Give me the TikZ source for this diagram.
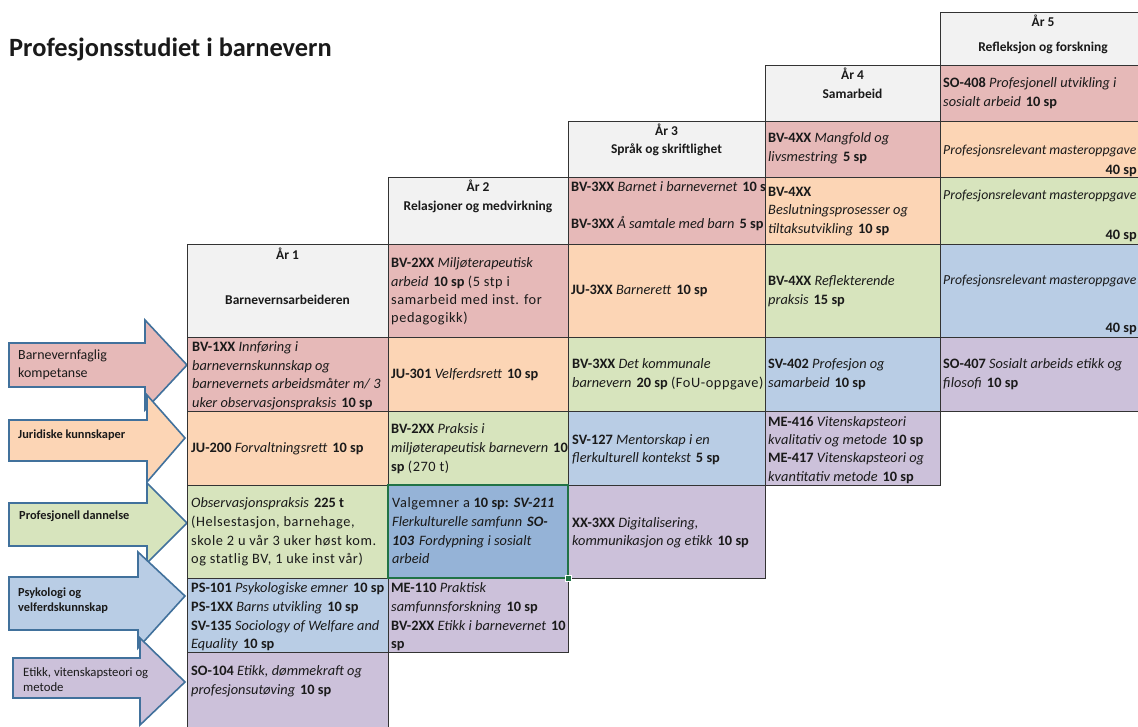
\documentclass[tikz,border=0pt]{standalone}
\usepackage{fontspec}
\setmainfont{Carlito}
\newfontfamily\widefont{Carlito}[LetterSpace=4]
\definecolor{cpink}{HTML}{E6B9B8}
\definecolor{corange}{HTML}{FCD5B5}
\definecolor{cgreen}{HTML}{D7E4BD}
\definecolor{cblue}{HTML}{B9CDE5}
\definecolor{cpurple}{HTML}{CCC1DA}
\definecolor{chead}{HTML}{F2F2F2}
\definecolor{cselect}{HTML}{95B3D7}
\definecolor{selborder}{HTML}{217346}
\definecolor{gridcol}{HTML}{333333}
\definecolor{arrowline}{HTML}{41719C}
\definecolor{txtcol}{HTML}{1A1A1A}
\tikzset{
  txt/.style={anchor=base west, inner sep=0pt, font=\fontsize{14.4}{17}\selectfont, text=txtcol},
  hdr/.style={anchor=base, inner sep=0pt, font=\bfseries\fontsize{13.5}{16}\selectfont, text=txtcol},
  arrtxt/.style={anchor=base west, inner sep=0pt, font=\bfseries\fontsize{12.4}{14}\selectfont, text=txtcol},
  cellbox/.style={draw=gridcol, line width=0.9bp},
  arrowbox/.style={draw=arrowline, line width=1.6bp, line join=miter},
}
\newcommand\cellr[5]{\filldraw[cellbox, fill=#5] (#1,#2) rectangle (#3,#4);}
\newcounter{lc}
\newcommand\txl[3]{\stepcounter{lc}\node[txt] (l\arabic{lc}) at (#1,#2) {#3};}
\newcommand\cbf[1]{\textbf{#1}}
\newcommand\cit[1]{\textit{#1}}
\newcommand\cwd[1]{{\widefont #1}}
\newcommand\gap{\hspace{5bp}}
\newcommand\blockarrow[9]{\filldraw[arrowbox, fill=#9] (#1,#2) -- (#4,#2) -- (#4,#5) -- (#6,#7) -- (#4,#8) -- (#4,#3) -- (#1,#3) -- cycle;}
\begin{document}
\begin{tikzpicture}[x=1bp, y=-1bp]
\useasboundingbox (0,0) rectangle (1138,727);
% title
\node[anchor=base west, inner sep=0pt, font=\bfseries\fontsize{26.5}{30}\selectfont, text=txtcol] (title) at (9,57) {Profesjonsstudiet i barnevern};

% arrows
\blockarrow{9}{343}{387}{145}{320}{187}{365}{410}{cpink}
\blockarrow{9}{420}{461}{147}{395}{185}{438}{482}{corange}
\blockarrow{9}{503}{546}{147}{483}{187}{523}{563}{cgreen}
\blockarrow{9}{577}{630}{138}{552}{185}{596}{648}{cblue}
\blockarrow{13}{658}{698}{140}{638}{185}{682}{725}{cpurple}
\node[arrtxt, font=\fontsize{14}{16}\selectfont] (a1) at (18,359.5) {Barnevernfaglig};
\node[arrtxt, font=\fontsize{14}{16}\selectfont] (a2) at (18,377.5) {kompetanse};
\node[arrtxt] (a3) at (18,438) {Juridiske kunnskaper};
\node[arrtxt] (a4) at (19,519) {Profesjonell dannelse};
\node[arrtxt] (a5) at (18,596) {Psykologi og};
\node[arrtxt] (a6) at (18,611) {velferdskunnskap};
\node[arrtxt, font=\fontsize{12.8}{14}\selectfont] (a7) at (23,676) {Etikk, vitenskapsteori og};
\node[arrtxt, font=\fontsize{12.8}{14}\selectfont] (a8) at (23,691) {metode};

% column 1
\cellr{187}{244}{388}{337}{chead}
\cellr{187}{337}{388}{411}{cpink}
\cellr{187}{411}{388}{485}{corange}
\cellr{187}{485}{388}{578}{cgreen}
\cellr{187}{578}{388}{652}{cblue}
\cellr{187}{652}{388}{727}{cpurple}
% column 2
\cellr{388}{177}{568}{244}{chead}
\cellr{388}{244}{568}{337}{cpink}
\cellr{388}{337}{568}{411}{corange}
\cellr{388}{411}{568}{485}{cgreen}
\cellr{388}{578}{568}{652}{cpurple}
% column 3
\cellr{568}{121}{765}{177}{chead}
\cellr{568}{177}{765}{244}{cpink}
\cellr{568}{244}{765}{337}{corange}
\cellr{568}{337}{765}{411}{cgreen}
\cellr{568}{411}{765}{485}{cblue}
\cellr{568}{485}{765}{578}{cpurple}
% column 4
\cellr{765}{65}{940}{121}{chead}
\cellr{765}{121}{940}{177}{cpink}
\cellr{765}{177}{940}{244}{corange}
\cellr{765}{244}{940}{337}{cgreen}
\cellr{765}{337}{940}{411}{cblue}
\cellr{765}{411}{940}{485}{cpurple}
% column 5
\cellr{940}{12}{1146}{65}{chead}
\cellr{940}{65}{1146}{121}{cpink}
\cellr{940}{121}{1146}{177}{corange}
\cellr{940}{177}{1146}{244}{cgreen}
\cellr{940}{244}{1146}{337}{cblue}
\cellr{940}{337}{1146}{411}{cpurple}
% selected cell
\filldraw[draw=selborder, line width=1.8bp, fill=cselect] (388,485) rectangle (568,578);
\filldraw[fill=selborder, draw=white, line width=0.6bp] (565,575) rectangle (571,581);

% headers
\node[hdr] (h1a) at (287.5,259.5) {År 1};
\node[hdr] (h1b) at (287.5,304.5) {Barnevernsarbeideren};
\node[hdr] (h2a) at (478,191.5) {År 2};
\node[hdr] (h2b) at (478,210.5) {Relasjoner og medvirkning};
\node[hdr] (h3a) at (666.5,135.5) {År 3};
\node[hdr] (h3b) at (666.5,153.5) {Språk og skriftlighet};
\node[hdr] (h4a) at (852.5,79.5) {År 4};
\node[hdr] (h4b) at (852.5,98.5) {Samarbeid};
\node[hdr] (h5a) at (1043,26.5) {År 5};
\node[hdr] (h5b) at (1043,51.5) {Refleksjon og forskning};

% column 1 texts
\txl{192}{351.5}{\cbf{BV-1XX} \cit{Innføring i}}
\txl{192}{370}{\cit{barnevernskunnskap og}}
\txl{192}{388.5}{\cit{barnevernets arbeidsmåter m/ 3}}
\txl{192}{407}{\cit{uker observasjonspraksis}\gap\cbf{10 sp}}
\txl{191}{452.5}{\cbf{JU-200} \cit{Forvaltningsrett}\gap\cbf{10 sp}}
\txl{191}{507.5}{\cit{Observasjonspraksis}\gap\cbf{225 t}}
\txl{191}{526.5}{\cwd{(Helsestasjon, barnehage,}}
\txl{191}{545.5}{\cwd{skole 2 u vår 3 uker høst kom.}}
\txl{191}{563.5}{\cwd{og statlig BV, 1 uke inst vår)}}
\txl{191}{592.5}{\cbf{PS-101} \cit{Psykologiske emner}\gap\cbf{10 sp}}
\txl{191}{611.5}{\cbf{PS-1XX} \cit{Barns utvikling}\gap\cbf{10 sp}}
\txl{191}{630.5}{\cbf{SV-135} \cit{Sociology of Welfare and}}
\txl{191}{648.5}{\cit{Equality}\gap\cbf{10 sp}}
\txl{191}{675.5}{\cbf{SO-104} \cit{Etikk, dømmekraft og}}
\txl{191}{694.5}{\cit{profesjonsutøving}\gap\cbf{10 sp}}

% column 2 texts
\txl{391}{267.5}{\cbf{BV-2XX} \cit{Miljøterapeutisk}}
\txl{391}{286.5}{\cit{arbeid}\gap\cbf{10 sp} \cwd{(5 stp i}}
\txl{391}{304.5}{\cwd{samarbeid med inst. for}}
\txl{391}{322.5}{\cwd{pedagogikk)}}
\txl{391}{378.5}{\cbf{JU-301} \cit{Velferdsrett}\gap\cbf{10 sp}}
\txl{391}{433.5}{\cbf{BV-2XX} \cit{Praksis i}}
\txl{391}{452.5}{\cit{miljøterapeutisk barnevern}\gap\cbf{10}}
\txl{391}{471.5}{\cbf{sp} \cwd{(270 t)}}
\txl{392}{507.5}{\cwd{Valgemner a} \cbf{10 sp:}\gap\textbf{\textit{SV-211}}}
\txl{392}{526.5}{\cit{Flerkulturelle samfunn}\gap\textbf{\textit{SO-}}}
\txl{392}{545.5}{\textbf{\textit{103}}\gap\cit{Fordypning i sosialt}}
\txl{392}{563.5}{\cit{arbeid}}
\txl{391}{592.5}{\cbf{ME-110} \cit{Praktisk}}
\txl{391}{611.5}{\cit{samfunnsforskning}\gap\cbf{10 sp}}
\txl{391}{630.5}{\cbf{BV-2XX} \cit{Etikk i barnevernet}\gap\cbf{10}}
\txl{391}{648.5}{\cbf{sp}}

% column 3 texts
\begin{scope}
\clip (568,177) rectangle (765,244);
\txl{571}{191.5}{\cbf{BV-3XX} \cit{Barnet i barnevernet}\gap\cbf{10 sp}}
\txl{571}{228.5}{\cbf{BV-3XX} \cit{Å samtale med barn}\gap\cbf{5 sp}}
\end{scope}
\txl{571}{294.5}{\cbf{JU-3XX} \cit{Barnerett}\gap\cbf{10 sp}}
\txl{572}{368.5}{\cbf{BV-3XX} \cit{Det kommunale}}
\txl{572}{387.5}{\cit{barnevern}\gap\cbf{20 sp} \cwd{(FoU-oppgave)}}
\txl{572}{444}{\cbf{SV-127} \cit{Mentorskap i en}}
\txl{572}{462}{\cit{flerkulturell kontekst}\gap\cbf{5 sp}}
\txl{572}{527}{\cbf{XX-3XX} \cit{Digitalisering,}}
\txl{572}{545.5}{\cit{kommunikasjon og etikk}\gap\cbf{10 sp}}

% column 4 texts
\txl{768}{142.5}{\cbf{BV-4XX} \cit{Mangfold og}}
\txl{768}{161.5}{\cit{livsmestring}\gap\cbf{5 sp}}
\txl{768}{196.5}{\cbf{BV-4XX}}
\txl{768}{214.5}{\cit{Beslutningsprosesser og}}
\txl{768}{233.5}{\cit{tiltaksutvikling}\gap\cbf{10 sp}}
\txl{768}{285.5}{\cbf{BV-4XX} \cit{Reflekterende}}
\txl{768}{304.5}{\cit{praksis}\gap\cbf{15 sp}}
\txl{768}{368.5}{\cbf{SV-402} \cit{Profesjon og}}
\txl{768}{387.5}{\cit{samarbeid}\gap\cbf{10 sp}}
\txl{768}{426.5}{\cbf{ME-416} \cit{Vitenskapsteori}}
\txl{768}{444.5}{\cit{kvalitativ og metode}\gap\cbf{10 sp}}
\txl{768}{462.5}{\cbf{ME-417} \cit{Vitenskapsteori og}}
\txl{768}{481.5}{\cit{kvantitativ metode}\gap\cbf{10 sp}}

% column 5 texts
\txl{943}{87.5}{\cbf{SO-408} \cit{Profesjonell utvikling i}}
\txl{943}{106.5}{\cit{sosialt arbeid}\gap\cbf{10 sp}}
\node[txt, font=\fontsize{13.8}{16}\selectfont] (p1) at (943,154.5) {\cit{Profesjonsrelevant masteroppgave}};
\node[txt, anchor=base east] (m1) at (1137,174.5) {\cbf{40 sp}};
\node[txt, font=\fontsize{13.8}{16}\selectfont] (p2) at (943,199.5) {\cit{Profesjonsrelevant masteroppgave}};
\node[txt, anchor=base east] (m2) at (1137,239.5) {\cbf{40 sp}};
\node[txt, font=\fontsize{13.8}{16}\selectfont] (p3) at (943,284.5) {\cit{Profesjonsrelevant masteroppgave}};
\node[txt, anchor=base east] (m3) at (1137,332.5) {\cbf{40 sp}};
\txl{943}{368.5}{\cbf{SO-407} \cit{Sosialt arbeids etikk og}}
\txl{943}{387.5}{\cit{filosofi}\gap\cbf{10 sp}}
\end{tikzpicture}
\end{document}
